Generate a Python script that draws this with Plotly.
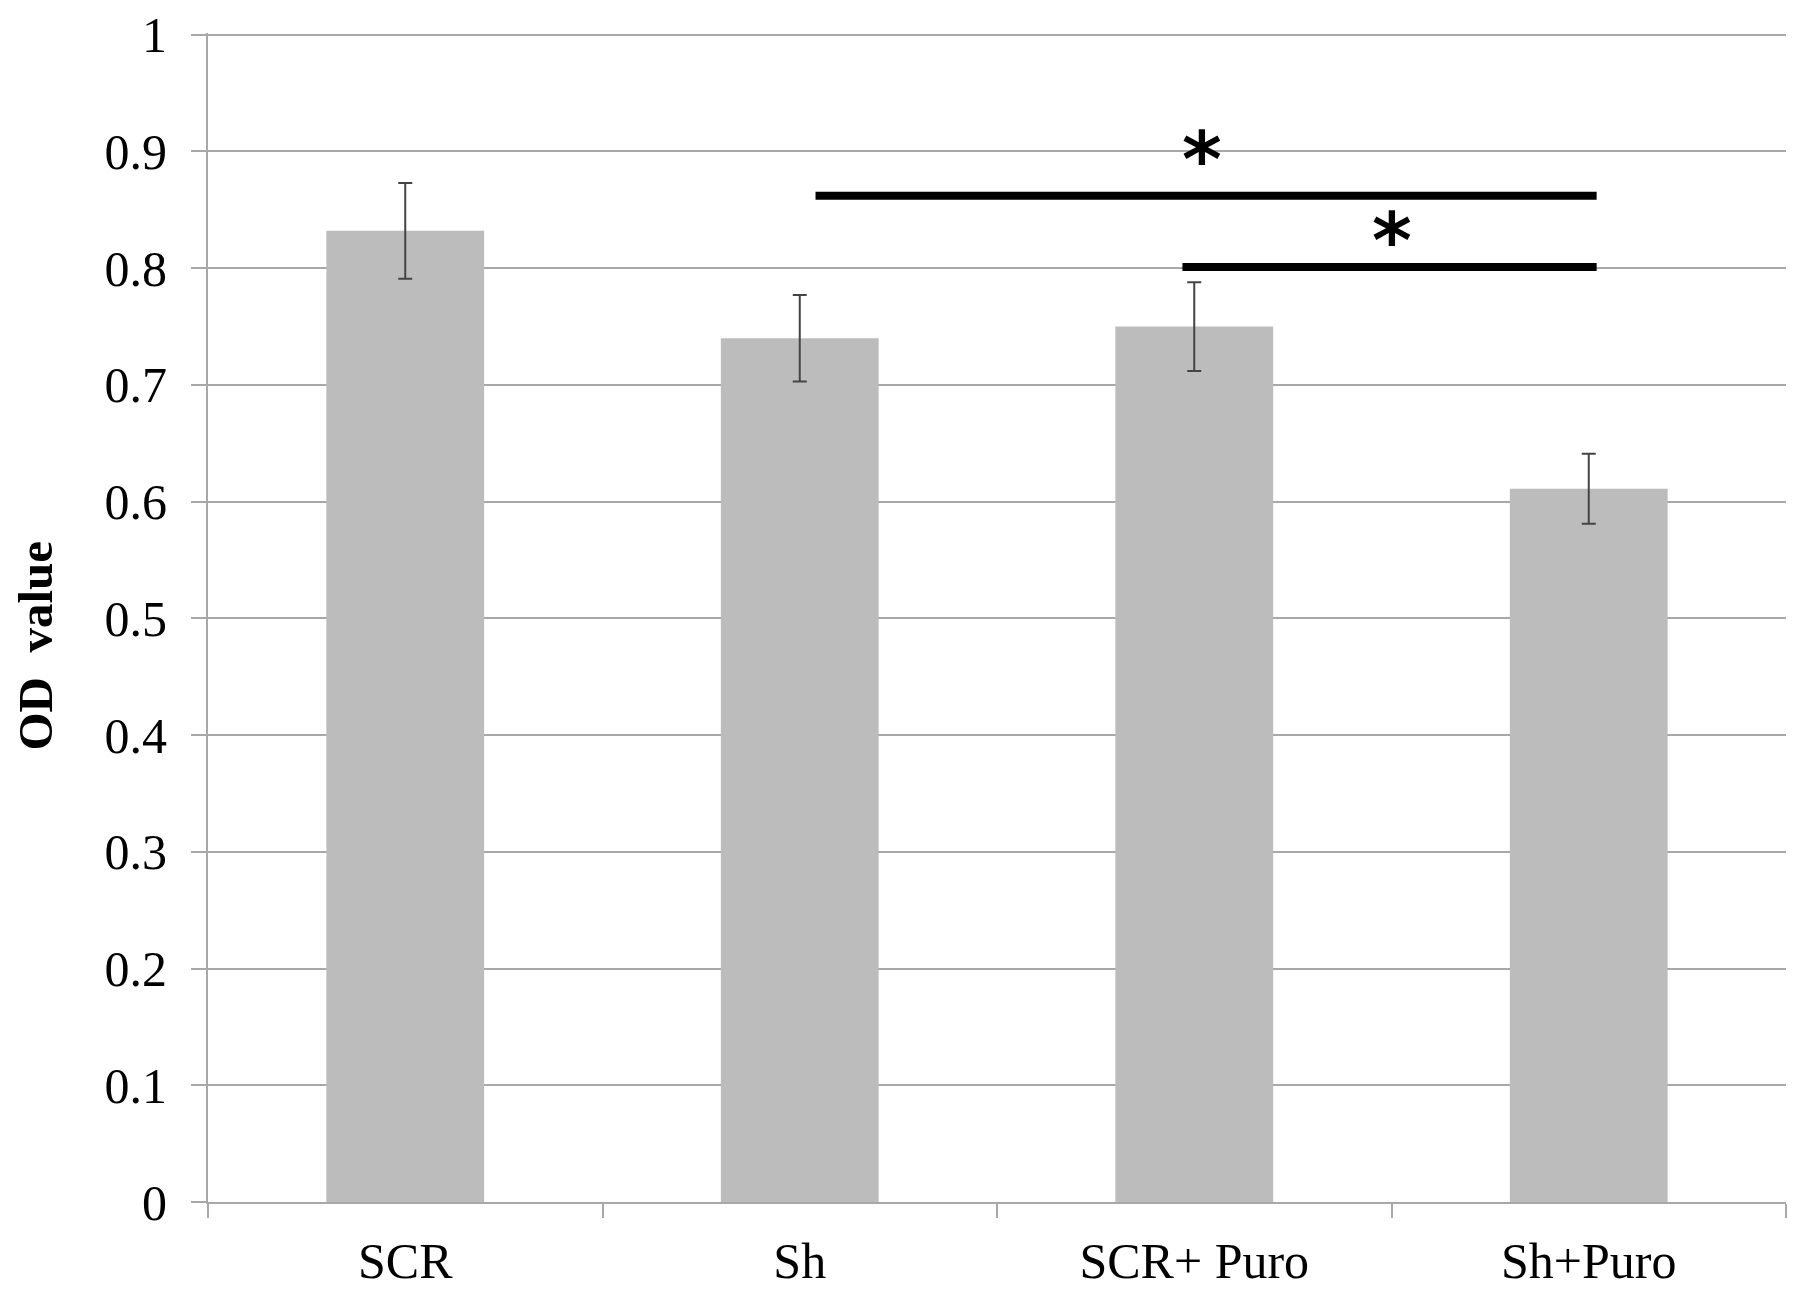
import plotly.graph_objects as go

categories = ["SCR", "Sh", "SCR+ Puro", "Sh+Puro"]
od_values = [0.832, 0.740, 0.750, 0.611]
od_errors = [0.041, 0.037, 0.038, 0.030]

# significance brackets: (x start, x end, y level) in category units / data units
sig_x0 = [1.04, 1.97]
sig_x1 = [3.02, 3.02]
sig_y = [0.862, 0.801]
star_x = [2.02, 2.50]
star_y = [0.900, 0.831]
star_text = ["*", "*"]

serif = "Liberation Serif, Times New Roman, serif"
grid_col = "#a8a8a8"

fig = go.Figure()
fig.add_trace(go.Bar(
    x=categories, y=od_values,
    width=0.4,
    marker=dict(color="#bcbcbc", line=dict(width=0)),
    error_y=dict(type="data", array=od_errors, visible=True,
                 color="#444444", thickness=2, width=7),
    showlegend=False,
))

for x0, x1, y in zip(sig_x0, sig_x1, sig_y):
    fig.add_shape(type="line", xref="x", yref="y", x0=x0, x1=x1, y0=y, y1=y,
                  line=dict(color="black", width=8))

for x, y, t in zip(star_x, star_y, star_text):
    fig.add_annotation(x=x, y=y, xref="x", yref="y", text="<b>" + t + "</b>", showarrow=False,
                       font=dict(family="DejaVu Sans", size=76, color="black"),
                       yanchor="middle", yshift=-8)

fig.add_annotation(x=-0.109, y=0.476, xref="paper", yref="paper",
                   text="<b>OD  value</b>", textangle=-90, showarrow=False,
                   font=dict(family=serif, size=49, color="black"),
                   xanchor="center", yanchor="middle")

fig.update_layout(
    width=1795, height=1291,
    margin=dict(l=200, r=17, t=25, b=97, autoexpand=False),
    paper_bgcolor="white", plot_bgcolor="white",
    font=dict(family=serif, size=50, color="black"),
)
fig.update_xaxes(
    type="category", range=[-0.5, 3.5], automargin=False,
    showline=True, linecolor=grid_col, linewidth=2,
    ticks="outside", tickson="boundaries", ticklen=14, tickwidth=2, tickcolor=grid_col,
    tickfont=dict(family=serif, size=50, color="black"),
    ticklabelstandoff=14,
    showgrid=False, zeroline=False,
)
fig.update_yaxes(
    range=[0, 1.0015], automargin=False,
    tickvals=[0, 0.1, 0.2, 0.3, 0.4, 0.5, 0.6, 0.7, 0.8, 0.9, 1],
    ticktext=["0", "0.1", "0.2", "0.3", "0.4", "0.5", "0.6", "0.7", "0.8", "0.9", "1"],
    showline=True, linecolor=grid_col, linewidth=2,
    showgrid=True, gridcolor=grid_col, gridwidth=2,
    ticks="outside", ticklen=15, tickwidth=2, tickcolor=grid_col,
    tickfont=dict(family=serif, size=50, color="black"),
    ticklabelstandoff=14, ticklabeloverflow="allow",
    zeroline=False,
)

fig.write_html("out.html")
